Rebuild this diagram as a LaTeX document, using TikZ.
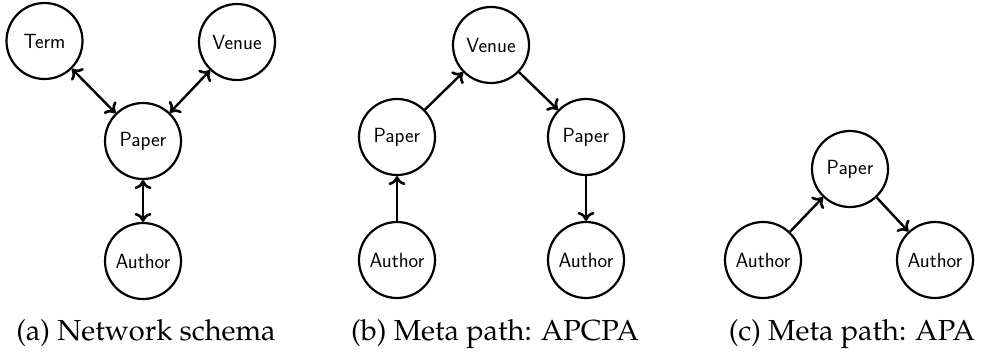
\documentclass[tikz,border=0pt]{standalone}
\usetikzlibrary{arrows.meta}
\tikzset{
  ent/.style={circle,draw,line width=2.2pt,minimum size=76pt,inner sep=0pt,
    font=\fontsize{20.5}{24}\selectfont\sffamily},
  tipb/.tip={To[length=9pt,width=17pt,line width=2.6pt]},
  link/.style={line width=2.4pt,-tipb},
  blink/.style={line width=2.4pt,tipb-tipb},
  captext/.style={inner sep=0pt,anchor=base,
    font=\fontencoding{T1}\fontfamily{ppl}\fontsize{29}{34}\selectfont}
}
\begin{document}
\begin{tikzpicture}[x=1pt,y=-1pt]
\useasboundingbox (0,0) rectangle (981,354);
% (a)
\node[ent] (aT) at (44.5,41) {Term};
\node[ent] (aV) at (237,42) {Venue};
\node[ent] (aP) at (143,141) {Paper};
\node[ent] (aA) at (143,261) {Author};
\draw[blink] (aT) -- (aP);
\draw[blink] (aV) -- (aP);
\draw[blink] (aP) -- (aA);
\node[captext] (capa) at (146,340) {(a) Network schema};
% (b)
\node[ent] (bV) at (491,45) {Venue};
\node[ent] (bP1) at (397,137) {Paper};
\node[ent] (bP2) at (586,137) {Paper};
\node[ent] (bA1) at (397,260) {Author};
\node[ent] (bA2) at (586,260) {Author};
\draw[link] (bA1) -- (bP1);
\draw[link] (bP1) -- (bV);
\draw[link] (bV) -- (bP2);
\draw[link] (bP2) -- (bA2);
\node[captext] (capb) at (495,340) {(b) Meta path: APCPA};
% (c)
\node[ent] (cP) at (850,169) {Paper};
\node[ent] (cA1) at (763,260) {Author};
\node[ent] (cA2) at (935,260) {Author};
\draw[link] (cA1) -- (cP);
\draw[link] (cP) -- (cA2);
\node[captext] (capc) at (852,340) {(c) Meta path: APA};
\end{tikzpicture}
\end{document}
